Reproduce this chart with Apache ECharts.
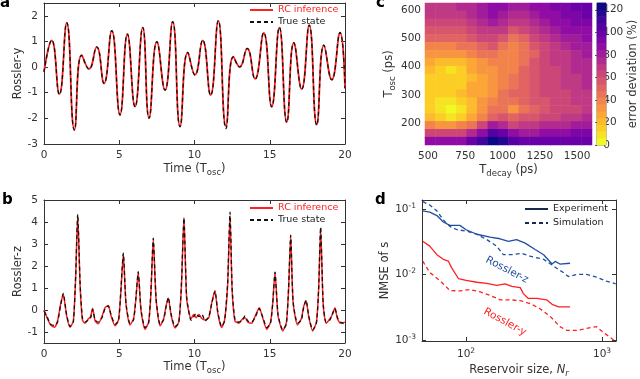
<!DOCTYPE html>
<html>
<head>
<meta charset="UTF-8">
<script src="https://cdn.jsdelivr.net/npm/echarts@6.0.0/dist/echarts.min.js"></script>
<style>html,body{margin:0;padding:0;background:#fff;}</style>
</head>
<body>
<div id="main" style="width:640px;height:379px;"></div>
<script>
var FONT = 'DejaVu Sans';
var RED = '#ff2020';
var BLUE = '#1f4f9e';

// panel a: Rossler-y, peaks and troughs (time in T_osc)
var tA = [0, 0.51, 1.02, 1.51, 2.02, 2.5, 2.99, 3.5, 3.99, 4.5,
    5.05, 5.54, 6.05, 6.56, 6.98, 7.5, 8.04, 8.55, 9.04, 9.55,
    10.03, 10.54, 11.07, 11.58, 12.09, 12.58, 13.0, 13.5, 14.02, 14.6,
    15.13, 15.64, 16.13, 16.6, 17.12, 17.62, 18.12, 18.6, 19.12, 19.67, 20];
var yTrue = [-0.2, 1.05, -1.07, 1.73, -2.46, 0.46, -0.08, 0.79, -0.64, 1.42,
    -1.87, 1.29, -1.55, 1.55, -2.0, 0.99, -0.9, 1.77, -2.33, 0.57,
    -0.31, 1.05, -1.1, 1.81, -2.4, 0.4, 0.0, 0.73, -0.47, 1.34,
    -1.55, 1.55, -2.16, 0.95, -0.87, 1.64, -2.26, 0.86, -0.5, 1.35, -0.83];
var yRC = [-0.18, 1.04, -1.05, 1.72, -2.44, 0.47, -0.07, 0.78, -0.63, 1.41,
    -1.85, 1.28, -1.54, 1.54, -1.98, 0.98, -0.9, 1.76, -2.31, 0.56,
    -0.3, 1.04, -1.09, 1.8, -2.3, 0.41, 0.01, 0.72, -0.46, 1.33,
    -1.54, 1.54, -2.14, 0.94, -0.86, 1.63, -2.24, 0.85, -0.49, 1.34, -0.82];

// panel b: Rossler-z
var tB = [0, 0.2, 0.45, 0.7, 0.9, 1.1, 1.28, 1.5, 1.73, 1.95,
    2.1, 2.24, 2.4, 2.55, 2.72, 2.95, 3.1, 3.23, 3.4, 3.6,
    3.85, 4.05, 4.27, 4.45, 4.72, 4.95, 5.1, 5.27, 5.45, 5.71,
    5.95, 6.1, 6.26, 6.45, 6.71, 6.95, 7.1, 7.26, 7.45, 7.71,
    7.95, 8.1, 8.26, 8.45, 8.7, 8.95, 9.12, 9.3, 9.48, 9.77,
    9.95, 10.1, 10.3, 10.5, 10.7, 10.95, 11.15, 11.36, 11.55, 11.8,
    12.0, 12.2, 12.36, 12.5, 12.69, 12.95, 13.2, 13.35, 13.55, 13.8,
    14.05, 14.3, 14.55, 14.8, 15.05, 15.2, 15.35, 15.55, 15.86, 16.1,
    16.25, 16.39, 16.55, 16.84, 17.1, 17.25, 17.41, 17.6, 17.85, 18.1,
    18.25, 18.38, 18.55, 18.74, 19.0, 19.2, 19.33, 19.5, 19.7, 20];
var zTrue = [-0.05, -0.3, -0.65, -0.7, -0.55, 0.2, 0.75, -0.2, -0.75, -0.55,
    1.5, 4.35, 1.2, -0.35, -0.55, -0.45, -0.35, 0.03, -0.45, -0.55,
    -0.35, 0.05, 0.19, -0.2, -0.65, -0.5, 0.8, 2.58, 0.3, -0.6,
    -0.45, 0.5, 1.74, 0.0, -0.8, -0.6, 0.8, 3.27, 0.5, -0.65,
    -0.45, 0.1, 0.57, -0.2, -0.75, -0.6, 1.0, 4.18, 0.6, -0.47,
    -0.3, -0.15, -0.3, -0.2, -0.5, -0.3, 0.3, 0.86, -0.1, -0.75,
    -0.5, 1.2, 4.45, 1.0, -0.45, -0.55, -0.45, -0.27, -0.5, -0.55,
    -0.3, 0.07, -0.35, -0.8, -0.6, 0.3, 1.72, -0.2, -0.9, -0.65,
    1.0, 3.4, 0.4, -0.6, -0.45, 0.1, 0.45, -0.3, -0.9, -0.6,
    1.0, 3.77, 0.3, -0.55, -0.45, -0.1, 0.07, -0.35, -0.55, -0.65];
var zRC = [0.0, -0.35, -0.7, -0.78, -0.5, 0.25, 0.72, -0.25, -0.78, -0.5,
    1.4, 4.3, 1.1, -0.45, -0.6, -0.4, -0.3, 0.08, -0.5, -0.62,
    -0.3, 0.1, 0.2, -0.25, -0.72, -0.45, 0.75, 2.55, 0.25, -0.68,
    -0.4, 0.45, 1.7, -0.05, -0.88, -0.55, 0.7, 3.2, 0.45, -0.72,
    -0.4, 0.15, 0.55, -0.25, -0.82, -0.55, 0.9, 4.2, 0.5, -0.4,
    -0.2, -0.35, -0.2, -0.4, -0.45, -0.35, 0.35, 0.88, -0.15, -0.8,
    -0.45, 1.1, 4.3, 0.9, -0.5, -0.6, -0.4, -0.35, -0.55, -0.6,
    -0.25, 0.1, -0.4, -0.88, -0.55, 0.35, 1.7, -0.25, -0.95, -0.6,
    0.9, 3.35, 0.35, -0.68, -0.4, 0.15, 0.42, -0.35, -0.95, -0.55,
    0.95, 3.72, 0.25, -0.6, -0.4, -0.15, 0.1, -0.4, -0.6, -0.55];

// panel c: error deviation (%) on a T_decay x T_osc grid (ps)
var tDecayCells = [515, 585, 655, 725, 795, 865, 935, 1005, 1075, 1145, 1215, 1285, 1355, 1425, 1495, 1565];
var tOscCells = [136, 164, 192, 220, 248, 276, 304, 332, 360, 388, 416, 444, 472, 500, 528, 556, 584, 612]; // bottom -> top
var errRows = [ // top row (612 ps) first
    [72, 72, 72, 74, 78, 84, 90, 86, 82, 82, 86, 90, 94, 96, 98, 100],
    [68, 68, 68, 70, 74, 80, 86, 82, 78, 78, 82, 86, 90, 94, 96, 98],
    [62, 62, 62, 64, 68, 74, 80, 76, 70, 72, 76, 82, 86, 90, 92, 94],
    [56, 56, 56, 58, 62, 68, 72, 68, 60, 64, 68, 76, 82, 86, 88, 90],
    [50, 50, 50, 52, 56, 62, 64, 58, 46, 54, 62, 70, 76, 80, 84, 86],
    [42, 42, 42, 44, 48, 54, 56, 48, 38, 46, 56, 64, 70, 76, 80, 82],
    [34, 32, 32, 34, 38, 44, 48, 40, 38, 46, 54, 62, 68, 72, 76, 80],
    [26, 24, 22, 24, 30, 36, 40, 38, 40, 48, 56, 62, 68, 72, 76, 78],
    [20, 18, 12, 18, 26, 32, 36, 38, 42, 50, 58, 62, 66, 70, 74, 76],
    [16, 16, 14, 16, 24, 30, 34, 40, 46, 52, 58, 62, 66, 68, 72, 74],
    [14, 14, 14, 18, 26, 30, 34, 42, 48, 54, 58, 62, 66, 68, 70, 74],
    [14, 14, 16, 22, 28, 30, 36, 46, 50, 54, 58, 62, 64, 66, 70, 72],
    [14, 12, 10, 14, 24, 32, 42, 46, 44, 50, 56, 60, 62, 64, 68, 70],
    [14, 8, 2, 8, 22, 34, 46, 44, 36, 46, 54, 58, 62, 64, 66, 70],
    [22, 16, 12, 16, 28, 40, 54, 56, 52, 56, 60, 64, 66, 70, 72, 76],
    [40, 36, 34, 38, 48, 64, 80, 74, 66, 68, 72, 74, 76, 78, 80, 82],
    [64, 62, 62, 66, 76, 90, 104, 100, 90, 84, 84, 86, 88, 90, 92, 94],
    [88, 86, 86, 90, 98, 110, 122, 120, 108, 100, 98, 98, 98, 100, 100, 102]
];
var cbMax = 126, cbStep = 6;

// panel d: NMSE vs reservoir size
var nExpZ = [48, 54, 61, 68, 76, 90, 100, 120, 150, 178, 205, 235, 272, 322, 372, 429, 452, 490, 582];
var eExpZ = [0.093, 0.089, 0.079, 0.063, 0.056, 0.056, 0.048, 0.041, 0.037, 0.035, 0.032, 0.034, 0.030, 0.024, 0.020, 0.0144, 0.0158, 0.0144, 0.0148];
var nSimZ = [48, 54, 61, 68, 76, 86, 100, 120, 142, 168, 188, 217, 256, 295, 372, 437, 519, 565, 650, 770, 910, 1075, 1260];
var eSimZ = [0.129, 0.115, 0.093, 0.068, 0.054, 0.048, 0.046, 0.041, 0.034, 0.027, 0.020, 0.020, 0.021, 0.019, 0.017, 0.0135, 0.0107, 0.0093, 0.010, 0.010, 0.0091, 0.0079, 0.0072];
var nExpY = [48, 54, 61, 68, 74, 78, 88, 100, 120, 142, 168, 194, 217, 250, 264, 287, 331, 391, 429, 479, 582];
var eExpY = [0.032, 0.027, 0.020, 0.017, 0.016, 0.0128, 0.0086, 0.0081, 0.0076, 0.0073, 0.0068, 0.0072, 0.0066, 0.0063, 0.0051, 0.0043, 0.0043, 0.0041, 0.0035, 0.0032, 0.0032];
var nSimY = [48, 54, 64, 76, 90, 107, 127, 150, 178, 210, 250, 295, 350, 415, 490, 550, 650, 770, 910, 1024, 1150, 1260];
var eSimY = [0.016, 0.0107, 0.0081, 0.0057, 0.0056, 0.0059, 0.0054, 0.0048, 0.0041, 0.0041, 0.0040, 0.0036, 0.0030, 0.0023, 0.0016, 0.0014, 0.0014, 0.0015, 0.0016, 0.0013, 0.0011, 0.00093];

// plasma, reversed (0 = yellow)
var plasmaRev = ['#f0f921', '#fcce25', '#fca636', '#f2844b', '#e16462', '#cc4778',
    '#b12a90', '#8f0da4', '#6a00a8', '#41049d', '#0d0887'];

function zip(xs, ys) {
    return xs.map(function (x, i) { return [x, ys[i]]; });
}

var heatData = [];
errRows.forEach(function (row, r) {
    row.forEach(function (v, c) {
        heatData.push([c, errRows.length - 1 - r, v]);
    });
});
var cbCats = [], cbData = [];
for (var k = 0; k < cbMax / cbStep; k++) {
    cbCats.push(String(k));
    cbData.push([0, k, k * cbStep + cbStep / 2]);
}

var rich = {
    sub: { fontSize: 8.5, fontFamily: FONT, color: '#333', padding: [6, 0, 0, 0] },
    sup: { fontSize: 7.5, fontFamily: FONT, color: '#333', padding: [0, 0, 6, 0] },
    it: { fontSize: 11.5, fontFamily: FONT, color: '#333', fontStyle: 'italic' },
    itsub: { fontSize: 8.5, fontFamily: FONT, color: '#333', fontStyle: 'italic', padding: [6, 0, 0, 0] }
};
var nameStyle = { fontSize: 11.5, fontFamily: FONT, color: '#333', rich: rich };
var lineCol = '#333';

// a value axis drawn as part of a box frame
function boxAxis(o) {
    var ax = {
        type: o.type || 'value',
        gridIndex: o.grid,
        position: o.position,
        min: o.min, max: o.max,
        interval: o.interval,
        logBase: o.type === 'log' ? 10 : undefined,
        axisLine: { show: true, onZero: false, lineStyle: { color: lineCol, width: 1 } },
        axisTick: { show: true, inside: true, length: 4, lineStyle: { color: lineCol } },
        splitLine: { show: false },
        axisLabel: {
            show: !o.hideLabel, color: '#333', fontSize: 10.5, fontFamily: FONT, margin: 6,
            rich: rich, formatter: o.formatter
        },
        name: o.name, nameLocation: 'middle', nameGap: o.nameGap, nameTextStyle: nameStyle
    };
    if (o.ticks) {
        ax.axisTick.customValues = o.ticks;
        ax.axisLabel.customValues = o.ticks;
    }
    return ax;
}

function logLabel(v) {
    var p = Math.log10(v);
    if (Math.abs(p - Math.round(p)) > 0.01) return '';
    return '10{sup|' + Math.round(p) + '}';
}
function plain(v) { return String(v); }

var yTicksA = [-3, -2, -1, 0, 1, 2];
var yTicksB = [-1, 0, 1, 2, 3, 4, 5];

var legendBase = {
    orient: 'vertical', itemWidth: 23, itemHeight: 8, padding: 0, selectedMode: false,
    itemStyle: { opacity: 0 },
    textStyle: { fontSize: 9.5, color: '#222', fontFamily: FONT }
};

var myChart = echarts.init(document.getElementById('main'), null, { renderer: 'canvas' });
var option = {
    animation: false,
    backgroundColor: '#fff',
    textStyle: { fontFamily: FONT },
    grid: [
        { left: 44, top: 3, width: 301, height: 141 },
        { left: 44, top: 200, width: 301, height: 143 },
        { left: 425, top: 3, width: 167, height: 142 },
        { left: 425, top: 3, width: 167, height: 142 },
        { left: 597, top: 3, width: 9, height: 142, show: true, borderColor: '#777', borderWidth: 1, backgroundColor: 'transparent' },
        { left: 597, top: 3, width: 9, height: 142 },
        { left: 422, top: 200, width: 194, height: 143 }
    ],
    xAxis: [
        boxAxis({ grid: 0, position: 'bottom', min: 0, max: 20, interval: 5, name: 'Time (T{sub|osc})', nameGap: 18 }),
        boxAxis({ grid: 0, position: 'top', min: 0, max: 20, interval: 5, hideLabel: true }),
        boxAxis({ grid: 1, position: 'bottom', min: 0, max: 20, interval: 5, name: 'Time (T{sub|osc})', nameGap: 17 }),
        boxAxis({ grid: 1, position: 'top', min: 0, max: 20, interval: 5, hideLabel: true }),
        { type: 'category', gridIndex: 2, data: tDecayCells, show: false },
        {
            type: 'value', gridIndex: 3, min: 480, max: 1600,
            axisLine: { show: false }, axisTick: { show: false }, splitLine: { show: false },
            axisLabel: { customValues: [500, 750, 1000, 1250, 1500], formatter: plain, color: '#333', fontSize: 10.5, fontFamily: FONT, margin: 6 },
            name: 'T{sub|decay} (ps)', nameLocation: 'middle', nameGap: 18, nameTextStyle: nameStyle
        },
        { type: 'category', gridIndex: 4, data: ['cb'], show: false },
        { type: 'value', gridIndex: 5, min: 0, max: 1, show: false },
        boxAxis({ grid: 6, type: 'log', position: 'bottom', min: 47.4, max: 1267, formatter: logLabel, name: 'Reservoir size, {it|N}{itsub|r}', nameGap: 22 }),
        boxAxis({ grid: 6, type: 'log', position: 'top', min: 47.4, max: 1267, hideLabel: true })
    ],
    yAxis: [
        boxAxis({ grid: 0, position: 'left', min: -3, max: 2.5, ticks: yTicksA, name: 'Rossler-y', nameGap: 20 }),
        boxAxis({ grid: 0, position: 'right', min: -3, max: 2.5, ticks: yTicksA, hideLabel: true }),
        boxAxis({ grid: 1, position: 'left', min: -1.5, max: 5, ticks: yTicksB, name: 'Rossler-z', nameGap: 20 }),
        boxAxis({ grid: 1, position: 'right', min: -1.5, max: 5, ticks: yTicksB, hideLabel: true }),
        { type: 'category', gridIndex: 2, data: tOscCells, show: false },
        {
            type: 'value', gridIndex: 3, min: 122, max: 626,
            axisLine: { show: false }, axisTick: { show: false }, splitLine: { show: false },
            axisLabel: { customValues: [200, 300, 400, 500, 600], color: '#333', fontSize: 10.5, fontFamily: FONT, margin: 4 },
            name: 'T{sub|osc} (ps)', nameLocation: 'middle', nameGap: 28, nameTextStyle: nameStyle
        },
        { type: 'category', gridIndex: 4, data: cbCats, show: false },
        {
            type: 'value', gridIndex: 5, position: 'right', min: 0, max: cbMax,
            axisLine: { show: false }, splitLine: { show: false },
            axisTick: { show: true, inside: true, length: 2, customValues: [0, 20, 40, 60, 80, 100, 120], lineStyle: { color: '#555' } },
            axisLabel: { customValues: [0, 20, 40, 60, 80, 100, 120], color: '#333', fontSize: 10.5, fontFamily: FONT, margin: 4 },
            name: 'error deviation (%)', nameLocation: 'middle', nameGap: 26, nameTextStyle: nameStyle
        },
        boxAxis({ grid: 6, type: 'log', position: 'left', min: 0.000966, max: 0.1365, formatter: logLabel, name: 'NMSE of s', nameGap: 26 }),
        boxAxis({ grid: 6, type: 'log', position: 'right', min: 0.000966, max: 0.1365, hideLabel: true })
    ],
    visualMap: {
        type: 'piecewise', show: false, min: 0, max: cbMax, splitNumber: cbMax / cbStep,
        seriesIndex: [4, 5], inRange: { color: plasmaRev }
    },
    legend: [
        Object.assign({}, legendBase, {
            left: 249, top: 5, itemGap: 2,
            data: [{ name: 'RC inference', textStyle: { color: RED } }, { name: 'True state' }]
        }),
        Object.assign({}, legendBase, {
            left: 249, top: 203, itemGap: 2,
            data: [{ name: 'RC inference', textStyle: { color: RED } }, { name: 'True state' }]
        }),
        Object.assign({}, legendBase, {
            left: 524, top: 204, itemGap: 4,
            data: ['Experiment', 'Simulation']
        })
    ],
    series: [
        {
            name: 'RC inference', type: 'line', xAxisIndex: 0, yAxisIndex: 0, data: zip(tA, yRC),
            smooth: 0.5, showSymbol: false, symbol: 'none', color: RED, lineStyle: { width: 1.8, color: RED }
        },
        {
            name: 'True state', type: 'line', xAxisIndex: 0, yAxisIndex: 0, data: zip(tA, yTrue),
            smooth: 0.5, showSymbol: false, symbol: 'none', color: '#111', lineStyle: { width: 1.3, color: '#111', type: [4, 3] }
        },
        {
            name: 'RC inference', type: 'line', xAxisIndex: 2, yAxisIndex: 2, data: zip(tB, zRC),
            smooth: 0.2, showSymbol: false, symbol: 'none', color: RED, lineStyle: { width: 1.5, color: RED }
        },
        {
            name: 'True state', type: 'line', xAxisIndex: 2, yAxisIndex: 2, data: zip(tB, zTrue),
            smooth: 0.2, showSymbol: false, symbol: 'none', color: '#111', lineStyle: { width: 1.3, color: '#111', type: [4, 3] }
        },
        { name: 'err', type: 'heatmap', xAxisIndex: 4, yAxisIndex: 4, data: heatData, itemStyle: { borderWidth: 0 } },
        { name: 'cbar', type: 'heatmap', xAxisIndex: 6, yAxisIndex: 6, data: cbData, itemStyle: { borderWidth: 0 } },
        {
            name: 'exp-z', type: 'line', xAxisIndex: 8, yAxisIndex: 8, data: zip(nExpZ, eExpZ),
            showSymbol: false, symbol: 'none', lineStyle: { width: 1.3, color: BLUE }
        },
        {
            name: 'sim-z', type: 'line', xAxisIndex: 8, yAxisIndex: 8, data: zip(nSimZ, eSimZ),
            showSymbol: false, symbol: 'none', lineStyle: { width: 1.3, color: BLUE, type: [4, 3] }
        },
        {
            name: 'exp-y', type: 'line', xAxisIndex: 8, yAxisIndex: 8, data: zip(nExpY, eExpY),
            showSymbol: false, symbol: 'none', lineStyle: { width: 1.3, color: RED }
        },
        {
            name: 'sim-y', type: 'line', xAxisIndex: 8, yAxisIndex: 8, data: zip(nSimY, eSimY),
            showSymbol: false, symbol: 'none', lineStyle: { width: 1.3, color: RED, type: [4, 3] }
        },
        // legend-only entries for panel d
        {
            name: 'Experiment', type: 'line', xAxisIndex: 8, yAxisIndex: 8, data: [],
            symbol: 'none', color: '#1a2a4a', lineStyle: { width: 1.3, color: '#1a2a4a' }
        },
        {
            name: 'Simulation', type: 'line', xAxisIndex: 8, yAxisIndex: 8, data: [],
            symbol: 'none', color: '#1a2a4a', lineStyle: { width: 1.3, color: '#1a2a4a', type: [4, 3] }
        }
    ],
    graphic: [
        { type: 'text', left: 0, top: -4, style: { text: 'a', font: 'bold 15px DejaVu Sans', fill: '#000' } },
        { type: 'text', left: 2, top: 193, style: { text: 'b', font: 'bold 15px DejaVu Sans', fill: '#000' } },
        { type: 'text', left: 376, top: -4, style: { text: 'c', font: 'bold 15px DejaVu Sans', fill: '#000' } },
        { type: 'text', left: 375, top: 193, style: { text: 'd', font: 'bold 15px DejaVu Sans', fill: '#000' } },
        {
            type: 'text', x: 507, y: 270, rotation: -0.48,
            style: { text: 'Rossler-z', font: '10.5px DejaVu Sans', fill: BLUE, align: 'center', verticalAlign: 'middle' }
        },
        {
            type: 'text', x: 505, y: 322, rotation: -0.5,
            style: { text: 'Rossler-y', font: '10.5px DejaVu Sans', fill: RED, align: 'center', verticalAlign: 'middle' }
        }
    ]
};
myChart.setOption(option);
</script>
</body>
</html>
